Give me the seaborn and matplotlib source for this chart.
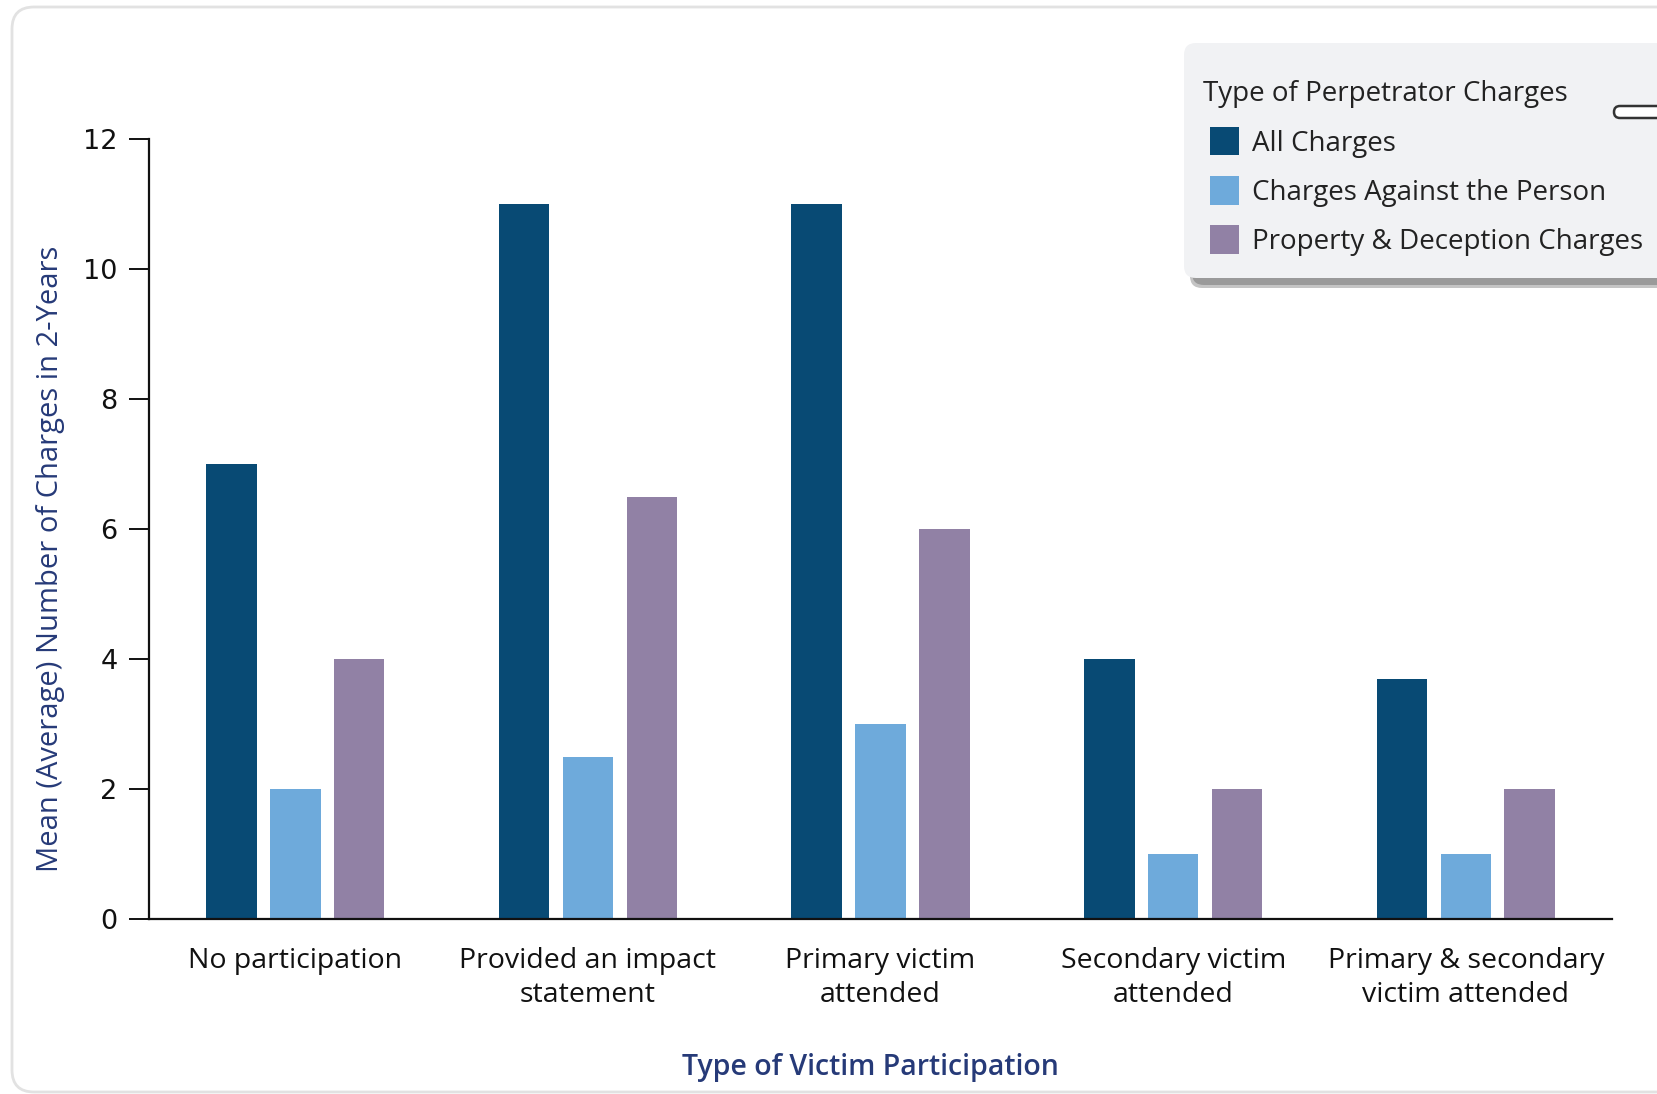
import numpy as np
import pandas as pd
import matplotlib
matplotlib.use("Agg")
import matplotlib.pyplot as plt
import seaborn as sns
from matplotlib.patches import FancyBboxPatch, Rectangle, Patch
from matplotlib.container import BarContainer
from matplotlib.legend_handler import HandlerPatch

# Data
categories = [
    "No participation",
    "Provided an impact\nstatement",
    "Primary victim\nattended",
    "Secondary victim\nattended",
    "Primary & secondary\nvictim attended",
]
series = ["All Charges", "Charges Against the Person", "Property & Deception Charges"]
all_charges = [7, 11, 11, 4, 3.7]
person_charges = [2, 2.5, 3, 1, 1]
property_charges = [4, 6.5, 6, 2, 2]
y_ticks = [0, 2, 4, 6, 8, 10, 12]

colors = ["#084a74", "#6eaadb", "#9181a5"]
navy = "#263a78"

df = pd.DataFrame({
    "category": categories * 3,
    "series": [series[0]] * 5 + [series[1]] * 5 + [series[2]] * 5,
    "value": all_charges + person_charges + property_charges,
})

sns.set_style("white")
plt.rcParams["font.family"] = ["Open Sans", "DejaVu Sans"]

W, H = 1657, 1094
fig = plt.figure(figsize=(W / 100, H / 100), dpi=100)
ax = fig.add_axes([0.0899, 0.160, 0.8830, 0.7125])

sns.barplot(
    data=df,
    x="category",
    y="value",
    hue="series",
    order=categories,
    hue_order=series,
    palette=colors,
    width=0.655,
    gap=0.21,
    linewidth=0,
    saturation=1,
    ax=ax,
)

ax.set_xlim(-0.5, 4.5)
ax.set_ylim(0, 12)
ax.set_yticks(y_ticks)

for s in ["top", "right"]:
    ax.spines[s].set_visible(False)
for s in ["left", "bottom"]:
    ax.spines[s].set_color("#111111")
    ax.spines[s].set_linewidth(1.6)

ax.tick_params(axis="y", length=14.5, width=1.4, color="#111111", pad=8,
               labelcolor="#111111", left=True)
ax.tick_params(axis="x", length=0, pad=20, labelsize=20.5, labelcolor="#111111")
for lab in ax.get_yticklabels():
    lab.set_family(["Liberation Sans Narrow", "DejaVu Sans"])
    lab.set_fontsize(19.5)
for lab in ax.get_xticklabels():
    lab.set_linespacing(1.3)

ax.set_xlabel("Type of Victim Participation", fontsize=20.5, color=navy,
              fontweight="semibold", labelpad=32)
ax.xaxis.label.set_x(0.4928)
ax.set_ylabel("Mean (Average) Number of Charges in 2-Years", fontsize=21,
              color=navy, fontweight="medium", labelpad=13)
ax.yaxis.label.set_y(0.462)

# Legend: grey card drawn by hand, entries placed by matplotlib
old = ax.get_legend()
handles = old.legend_handles
labels = [t.get_text() for t in old.get_texts()]
old.remove()


def indented_square(legend, orig_handle, xdescent, ydescent, width, height, fontsize):
    side = 20.5
    return Rectangle((5.3 - xdescent, -ydescent + (height - side) / 2), side, side)


handler = HandlerPatch(patch_func=indented_square)
leg = ax.legend(
    handles,
    labels,
    title="Type of Perpetrator Charges",
    loc="upper left",
    bbox_to_anchor=(1203 / W, 1 - 80.5 / H),
    bbox_transform=fig.transFigure,
    handler_map={Rectangle: handler, Patch: handler, BarContainer: handler},
    fontsize=20,
    title_fontsize=20,
    alignment="left",
    frameon=False,
    handlelength=1.29,
    handleheight=1.03,
    handletextpad=0.46,
    labelspacing=0.72,
    borderpad=0,
    borderaxespad=0,
)
for t in leg.get_texts():
    t.set_color("#222222")
leg.get_title().set_color("#222222")

box_left, box_top, box_bottom = 1184, 43, 278
shadow_outer = FancyBboxPatch(
    (box_left + 6, H - box_bottom - 10), 600, box_bottom - box_top,
    boxstyle="round,pad=0,rounding_size=12", transform=None,
    facecolor="#c4c4c4", edgecolor="none", zorder=9,
)
shadow_inner = FancyBboxPatch(
    (box_left + 8, H - box_bottom - 7), 600, box_bottom - box_top,
    boxstyle="round,pad=0,rounding_size=12", transform=None,
    facecolor="#9a9a9a", edgecolor="none", zorder=9.5,
)
legend_card = FancyBboxPatch(
    (box_left, H - box_bottom), 600, box_bottom - box_top,
    boxstyle="round,pad=0,rounding_size=12", transform=None,
    facecolor="#f1f2f4", edgecolor="none", zorder=10,
)
for p in [shadow_outer, shadow_inner, legend_card]:
    fig.patches.append(p)

# Card border
card = FancyBboxPatch(
    (12, 2), 1700, 1085,
    boxstyle="round,pad=0,rounding_size=22",
    transform=None, facecolor="none", edgecolor="#e2e2e2", linewidth=2,
    zorder=-1,
)
fig.patches.append(card)

# Toggle-like widget at the right edge of the legend
toggle = FancyBboxPatch(
    (1614, H - 118), 80, 12,
    boxstyle="round,pad=0,rounding_size=6",
    transform=None, facecolor="white", edgecolor="#333333", linewidth=1.8,
    zorder=11,
)
fig.patches.append(toggle)

# legend must sit above the figure-level card: move it to the figure
leg.remove()
fig.legends.append(leg)
leg.figure = fig
leg.set_zorder(12)

plt.savefig("out.png", dpi=100)
